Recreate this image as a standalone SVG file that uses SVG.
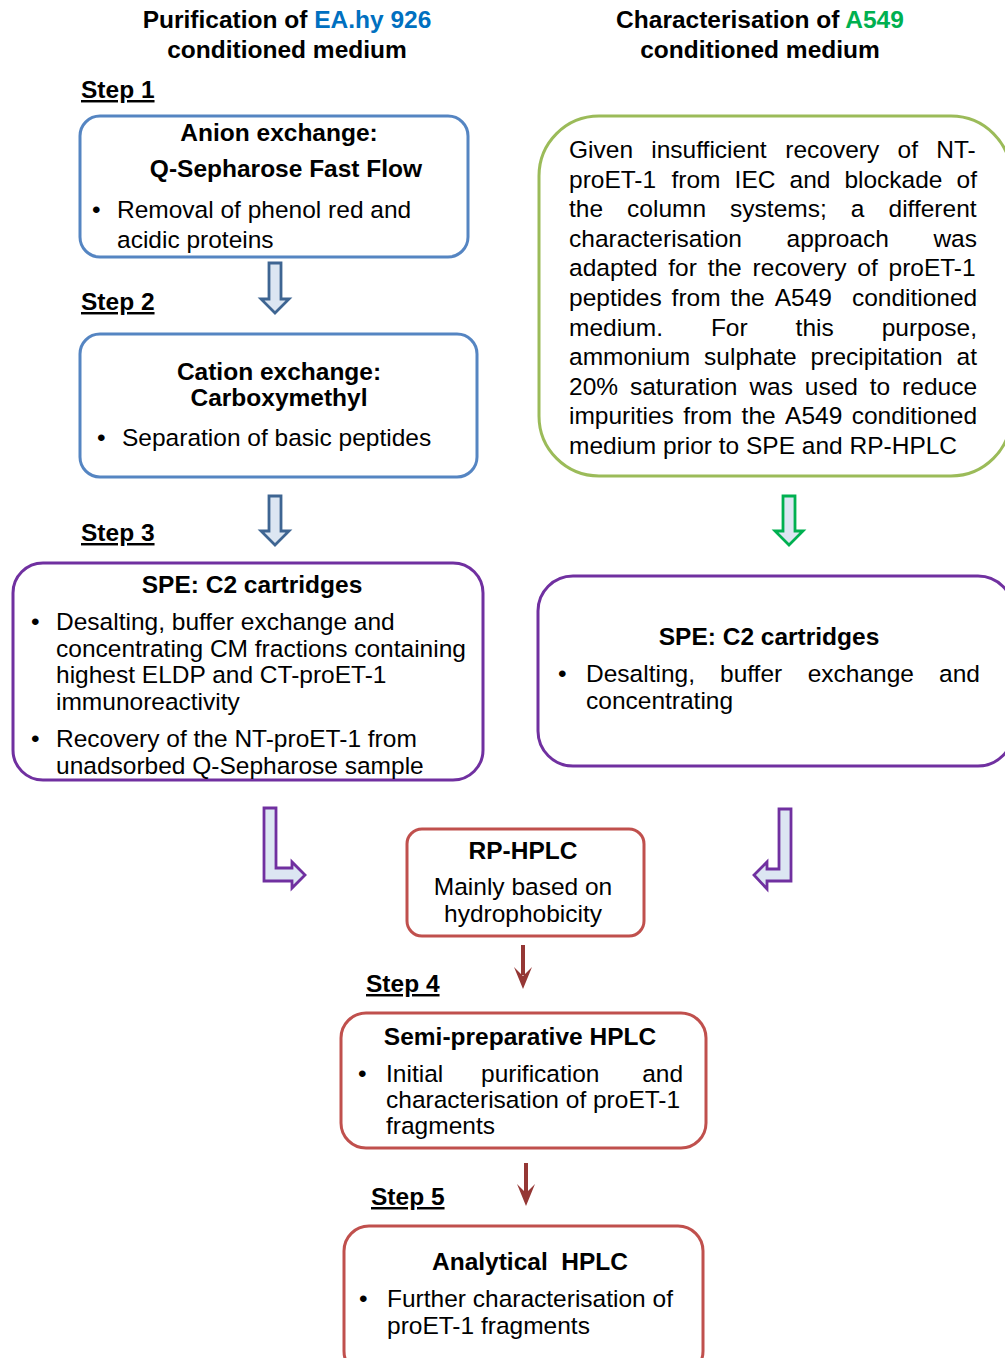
<svg xmlns="http://www.w3.org/2000/svg" width="1005" height="1358" viewBox="0 0 1005 1358">
<style>
text{font-family:"Liberation Sans",Arial,sans-serif;font-size:24.5px;fill:#000}
.b{font-weight:bold}
.c{text-anchor:middle}
.u{font-weight:bold;text-decoration:underline}
.box{fill:#fff;stroke-width:3}
.blue{stroke:#5585c2}
.purple{stroke:#7030a0}
.green{stroke:#9bbb59}
.red{stroke:#c0504d}
.ba{fill:#dce6f2;stroke-width:2.8;stroke-linejoin:miter}
.ra{fill:#953735}
</style>
<rect width="1005" height="1358" fill="#fff"/>

<g id="headers">
<text class="b c" x="287" y="28">Purification of <tspan fill="#0070c0">EA.hy 926</tspan></text>
<text class="b c" x="287" y="58">conditioned medium</text>
<text class="b c" x="760" y="28">Characterisation of <tspan fill="#00b050">A549</tspan></text>
<text class="b c" x="760" y="58">conditioned medium</text>
</g>

<g id="steps">
<text class="u" x="81" y="98">Step 1</text>
<text class="u" x="81" y="310">Step 2</text>
<text class="u" x="81" y="541">Step 3</text>
<text class="u" x="366" y="992">Step 4</text>
<text class="u" x="371" y="1205">Step 5</text>
</g>

<g id="node-anion">
<rect class="box blue" x="80" y="116" width="388" height="141" rx="20"/>
<text class="b c" x="279" y="141">Anion exchange:</text>
<text class="b c" x="286" y="177">Q-Sepharose Fast Flow</text>
<text x="92" y="218">•</text>
<text x="117" y="218">Removal of phenol red and</text>
<text x="117" y="248">acidic proteins</text>
</g>

<g id="node-cation">
<rect class="box blue" x="80" y="334" width="397" height="143" rx="20"/>
<text class="b c" x="279" y="380">Cation exchange:</text>
<text class="b c" x="279" y="406">Carboxymethyl</text>
<text x="97" y="446">•</text>
<text x="122" y="446">Separation of basic peptides</text>
</g>

<g id="node-spe-left">
<rect class="box purple" x="13" y="563" width="470" height="217" rx="30"/>
<text class="b c" x="252" y="593">SPE: C2 cartridges</text>
<text x="31" y="630">•</text>
<text x="56" y="630">Desalting, buffer exchange and</text>
<text x="56" y="657">concentrating CM fractions containing</text>
<text x="56" y="683">highest ELDP and CT-proET-1</text>
<text x="56" y="710">immunoreactivity</text>
<text x="31" y="747">•</text>
<text x="56" y="747">Recovery of the NT-proET-1 from</text>
<text x="56" y="774">unadsorbed Q-Sepharose sample</text>
</g>

<g id="node-a549">
<rect class="box green" x="539" y="116" width="472" height="360" rx="60"/>
<text y="158"><tspan x="569">Given</tspan><tspan x="651.3">insufficient</tspan><tspan x="785.3">recovery</tspan><tspan x="897.5">of</tspan><tspan x="936.2">NT-</tspan></text>
<text y="187.6"><tspan x="569">proET-1</tspan><tspan x="671.5">from</tspan><tspan x="734.6">IEC</tspan><tspan x="789.5">and</tspan><tspan x="844.4">blockade</tspan><tspan x="956.5">of</tspan></text>
<text y="217.2"><tspan x="569">the</tspan><tspan x="627.1">column</tspan><tspan x="730.1">systems;</tspan><tspan x="850.8">a</tspan><tspan x="888.5">different</tspan></text>
<text y="246.8"><tspan x="569">characterisation</tspan><tspan x="786.6">approach</tspan><tspan x="933.4">was</tspan></text>
<text y="276.4"><tspan x="569">adapted</tspan><tspan x="668.3">for</tspan><tspan x="707.7">the</tspan><tspan x="752.6">recovery</tspan><tspan x="857.3">of</tspan><tspan x="888.5">proET-1</tspan></text>
<text y="306"><tspan x="569">peptides</tspan><tspan x="671.6">from</tspan><tspan x="730.6">the</tspan><tspan x="774.7">A549</tspan><tspan x="851.9">conditioned</tspan></text>
<text y="335.6"><tspan x="569">medium.</tspan><tspan x="710.9">For</tspan><tspan x="795.6">this</tspan><tspan x="881.7">purpose,</tspan></text>
<text y="365.2"><tspan x="569">ammonium</tspan><tspan x="704.1">sulphate</tspan><tspan x="810.6">precipitation</tspan><tspan x="956.6">at</tspan></text>
<text y="394.8"><tspan x="569">20%</tspan><tspan x="629.9">saturation</tspan><tspan x="749.4">was</tspan><tspan x="804.8">used</tspan><tspan x="869.8">to</tspan><tspan x="902.1">reduce</tspan></text>
<text y="424.4"><tspan x="569">impurities</tspan><tspan x="683.2">from</tspan><tspan x="741.6">the</tspan><tspan x="785.1">A549</tspan><tspan x="851.7">conditioned</tspan></text>
<text x="569" y="454">medium prior to SPE and RP-HPLC</text>
</g>

<g id="node-spe-right">
<rect class="box purple" x="538" y="576" width="475" height="190" rx="35"/>
<text class="b c" x="769" y="645">SPE: C2 cartridges</text>
<text x="558" y="682">•</text>
<text y="682"><tspan x="586">Desalting,</tspan><tspan x="720">buffer</tspan><tspan x="807.7">exchange</tspan><tspan x="939">and</tspan></text>
<text x="586" y="709">concentrating</text>
</g>

<g id="node-rphplc">
<rect class="box red" x="407" y="829" width="237" height="107" rx="15"/>
<text class="b c" x="523" y="859">RP-HPLC</text>
<text class="c" x="523" y="895">Mainly based on</text>
<text class="c" x="523" y="922">hydrophobicity</text>
</g>

<g id="node-semiprep">
<rect class="box red" x="341" y="1013" width="365" height="135" rx="25"/>
<text class="b c" x="520" y="1045">Semi-preparative HPLC</text>
<text x="358" y="1082">•</text>
<text y="1082"><tspan x="386">Initial</tspan><tspan x="481">purification</tspan><tspan x="642.2">and</tspan></text>
<text x="386" y="1108">characterisation of proET-1</text>
<text x="386" y="1134">fragments</text>
</g>

<g id="node-analytical">
<rect class="box red" x="344" y="1226" width="359" height="150" rx="25"/>
<text class="b c" x="530" y="1270" xml:space="preserve">Analytical  HPLC</text>
<text x="359" y="1307">•</text>
<text x="387" y="1307">Further characterisation of</text>
<text x="387" y="1334">proET-1 fragments</text>
</g>

<g id="connectors">
<path class="ba" stroke="#3e6592" d="M269,263 H281 V299 H289 L275,313 L261,299 H269 Z"/>
<path class="ba" stroke="#3e6592" d="M269,496 H281 V531 H289 L275,545 L261,531 H269 Z"/>
<path class="ba" stroke="#00b050" d="M783,496 H795 V531 H803 L789,545 L775,531 H783 Z"/>
<path class="ba" stroke="#7030a0" d="M264,808 H276 V868 H292 V862 L305,875 L292,888 V881 H264 Z"/>
<path class="ba" stroke="#7030a0" d="M779,809 H791 V881 H767 V889 L754,875 L767,862 V869 H779 Z"/>
<rect class="ra" x="521" y="945" width="4" height="30"/>
<path class="ra" d="M514,967 L523,976 L532,967 L523,989 Z"/>
<rect class="ra" x="524" y="1163" width="4" height="30"/>
<path class="ra" d="M517,1184 L526,1193 L535,1184 L526,1206 Z"/>
</g>
</svg>
